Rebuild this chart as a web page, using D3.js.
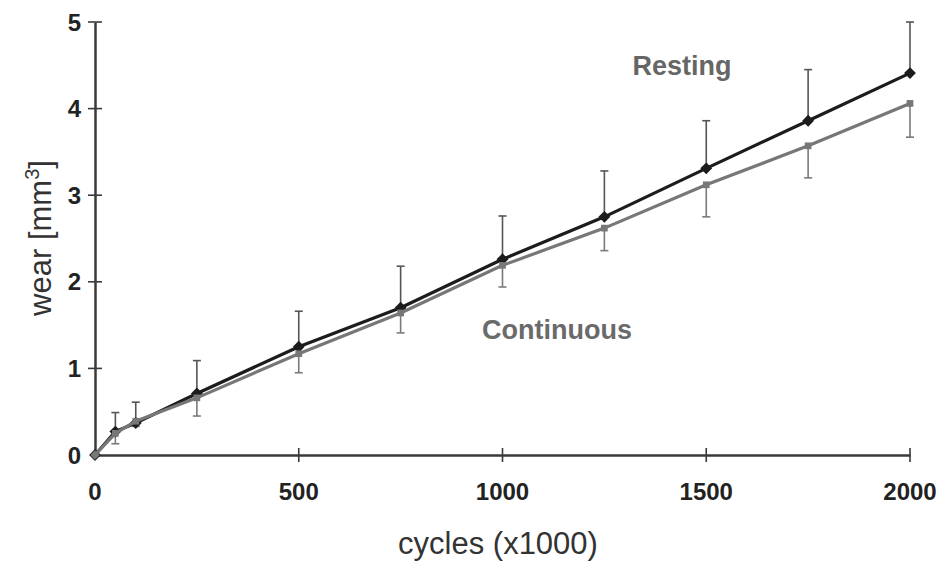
<!DOCTYPE html>
<html>
<head>
<meta charset="utf-8">
<script src="https://cdn.jsdelivr.net/npm/d3@7"></script>
<style>
  body { margin: 0; background: #fff; }
  text { font-family: "Liberation Sans", Arial, sans-serif; }
</style>
</head>
<body>
<script>
var cycles = [0, 50, 100, 250, 500, 750, 1000, 1250, 1500, 1750, 2000];
var resting = [0, 0.27, 0.37, 0.71, 1.25, 1.70, 2.26, 2.75, 3.31, 3.86, 4.41];
var restingErr = [0, 0.22, 0.24, 0.38, 0.41, 0.48, 0.50, 0.53, 0.55, 0.59, 0.59];
var continuous = [0, 0.25, 0.39, 0.66, 1.17, 1.64, 2.19, 2.62, 3.12, 3.57, 4.06];
var continuousErr = [0, 0.12, 0.06, 0.21, 0.22, 0.23, 0.25, 0.26, 0.37, 0.37, 0.39];
var xTicks = [0, 500, 1000, 1500, 2000];
var yTicks = [0, 1, 2, 3, 4, 5];

var width = 937, height = 563;

var svg = d3.select("body")
  .append("svg")
    .attr("width", width)
    .attr("height", height);

var x = d3.scaleLinear().domain([0, 2000]).range([95, 910]);
var y = d3.scaleLinear().domain([0, 5]).range([455, 22]);

var axisColor = "#3a3a3a";

// axes
var xAxis = svg.append("g")
  .attr("transform", "translate(0," + y(0) + ")")
  .call(d3.axisBottom(x).tickValues(xTicks).tickSize(0).tickFormat(""));
xAxis.select(".domain").attr("stroke", axisColor).attr("stroke-width", 2.5);

var yAxis = svg.append("g")
  .attr("transform", "translate(" + x(0) + ",0)")
  .call(d3.axisLeft(y).tickValues(yTicks).tickSize(0).tickFormat(""));
yAxis.select(".domain").attr("stroke", axisColor).attr("stroke-width", 2.5);

// tick marks crossing the axis
svg.selectAll(".xtick")
  .data(xTicks.slice(1))
  .enter().append("line")
    .attr("x1", d => x(d)).attr("x2", d => x(d))
    .attr("y1", y(0) - 7).attr("y2", y(0) + 7)
    .attr("stroke", axisColor).attr("stroke-width", 1.6);

svg.selectAll(".ytick")
  .data(yTicks.slice(1))
  .enter().append("line")
    .attr("x1", x(0) - 7).attr("x2", x(0) + 7)
    .attr("y1", d => y(d)).attr("y2", d => y(d))
    .attr("stroke", axisColor).attr("stroke-width", 1.6);

// tick labels
svg.selectAll(".xlab")
  .data(xTicks)
  .enter().append("text")
    .attr("x", d => x(d))
    .attr("y", 500)
    .attr("text-anchor", "middle")
    .style("font-size", "24px")
    .style("font-weight", "bold")
    .style("fill", "#222")
    .text(d => d);

svg.selectAll(".ylab")
  .data(yTicks)
  .enter().append("text")
    .attr("x", 81)
    .attr("y", d => y(d) + 8.5)
    .attr("text-anchor", "end")
    .style("font-size", "24px")
    .style("font-weight", "bold")
    .style("fill", "#222")
    .text(d => d);

// axis titles
svg.append("text")
  .attr("x", 498)
  .attr("y", 554)
  .attr("text-anchor", "middle")
  .style("font-size", "31px")
  .style("fill", "#333")
  .text("cycles (x1000)");

var yt = svg.append("text")
  .attr("transform", "translate(51,238) rotate(-90)")
  .attr("text-anchor", "middle")
  .style("font-size", "31px")
  .style("fill", "#333");
yt.append("tspan").text("wear [mm");
yt.append("tspan").attr("dy", -12).style("font-size", "20px").text("3");
yt.append("tspan").attr("dy", 12).text("]");

// error bars
function errorBars(vals, errs, dir, color) {
  var g = svg.append("g").attr("stroke", color).attr("stroke-width", 1.6);
  cycles.forEach(function (c, i) {
    if (!errs[i]) return;
    var y1 = y(vals[i]), y2 = y(vals[i] + dir * errs[i]);
    g.append("line").attr("x1", x(c)).attr("x2", x(c)).attr("y1", y1).attr("y2", y2);
    g.append("line").attr("x1", x(c) - 4).attr("x2", x(c) + 4).attr("y1", y2).attr("y2", y2);
  });
}
errorBars(resting, restingErr, 1, "#555");
errorBars(continuous, continuousErr, -1, "#7a7a7a");

var line = d3.line().x((d, i) => x(cycles[i])).y(d => y(d));

// resting series
svg.append("path")
  .datum(resting)
  .attr("d", line)
  .attr("fill", "none")
  .attr("stroke", "#1c1c1c")
  .attr("stroke-width", 3.2);

svg.selectAll(".rpt")
  .data(resting)
  .enter().append("path")
    .attr("transform", (d, i) => "translate(" + x(cycles[i]) + "," + y(d) + ") rotate(45)")
    .attr("d", d3.symbol().type(d3.symbolSquare).size(70))
    .attr("fill", "#1c1c1c");

// continuous series
svg.append("path")
  .datum(continuous)
  .attr("d", line)
  .attr("fill", "none")
  .attr("stroke", "#777")
  .attr("stroke-width", 3.2);

svg.selectAll(".cpt")
  .data(continuous)
  .enter().append("path")
    .attr("transform", (d, i) => "translate(" + x(cycles[i]) + "," + y(d) + ")" + (i === 0 ? " rotate(45)" : ""))
    .attr("d", d3.symbol().type(d3.symbolSquare).size(45))
    .attr("fill", "#777");

// series labels
svg.append("text")
  .attr("x", 682)
  .attr("y", 75)
  .attr("text-anchor", "middle")
  .style("font-size", "27px")
  .style("font-weight", "bold")
  .style("fill", "#666")
  .text("Resting");

svg.append("text")
  .attr("x", 557)
  .attr("y", 339)
  .attr("text-anchor", "middle")
  .style("font-size", "27px")
  .style("font-weight", "bold")
  .style("fill", "#6a6a6a")
  .text("Continuous");
</script>
</body>
</html>
